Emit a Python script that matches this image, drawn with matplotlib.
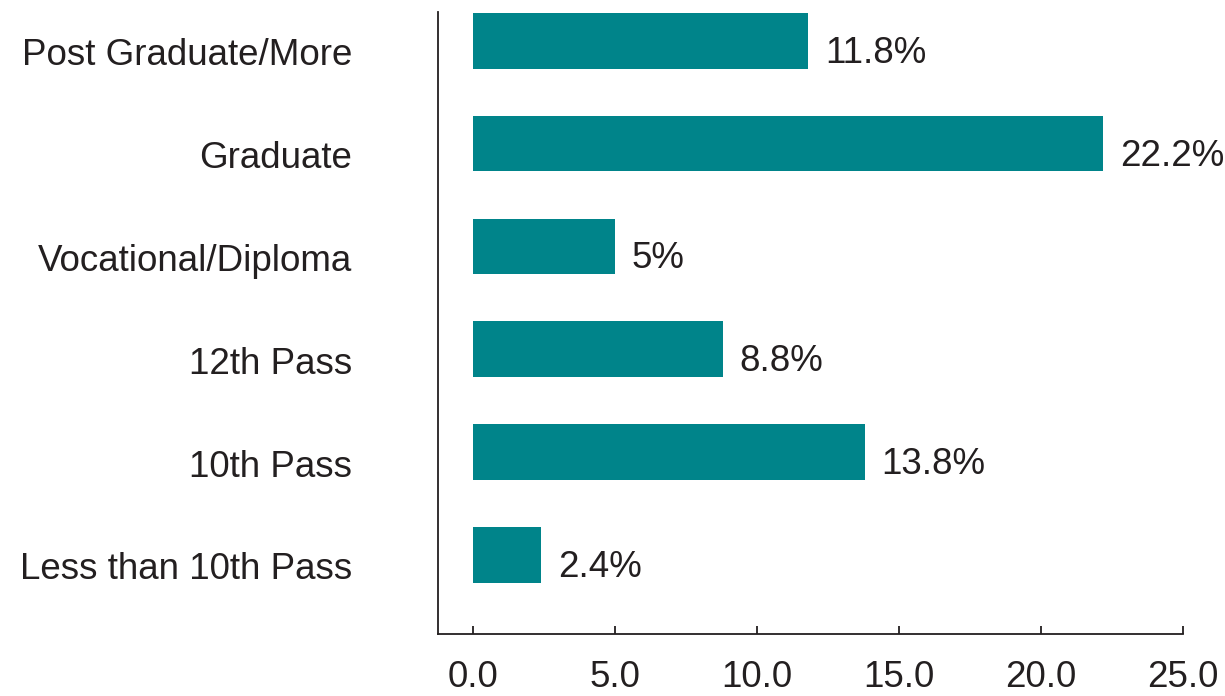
import matplotlib.pyplot as plt
from matplotlib.transforms import ScaledTranslation

# education levels, bottom to top
levels = ['Less than 10th Pass', '10th Pass', '12th Pass',
          'Vocational/Diploma', 'Graduate', 'Post Graduate/More']
shares = [2.4, 13.8, 8.8, 5.0, 22.2, 11.8]
share_labels = ['2.4%', '13.8%', '8.8%', '5%', '22.2%', '11.8%']
x_ticks = [0, 5, 10, 15, 20, 25]

plt.rcParams['font.family'] = ['Liberation Sans', 'DejaVu Sans']
txt = '#231f20'
fs = 26.5

fig = plt.figure(figsize=(12.25, 6.96), dpi=100)
ax = fig.add_axes([0.3576, 0.0891, 0.6081, 0.8937])

pos = range(len(levels))
bars = ax.barh(pos, shares, height=0.54, color='#00848a')
for b, lab in zip(bars, share_labels):
    ax.annotate(lab, (b.get_width(), b.get_y() + b.get_height() / 2),
                xytext=(12, -9), textcoords='offset points',
                va='center', ha='left', fontsize=fs, color=txt)

ax.set_xlim(-1.23, 25)
ax.set_ylim(-0.77, 5.28)
ax.set_xticks(x_ticks)
ax.set_xticklabels([f'{v:.1f}' for v in x_ticks])
ax.set_yticks(list(pos))
ax.set_yticklabels(levels)

ax.spines['top'].set_visible(False)
ax.spines['right'].set_visible(False)
for s in ('left', 'bottom'):
    ax.spines[s].set_color(txt)
    ax.spines[s].set_linewidth(1.3)

ax.tick_params(axis='x', direction='in', length=6, width=1.3, color=txt,
               labelsize=fs, labelcolor=txt, pad=19)
ax.tick_params(axis='y', length=0, labelsize=fs, labelcolor=txt, pad=62)

# category names sit a little below the bar centres
shift = ScaledTranslation(0, -8 / 72, fig.dpi_scale_trans)
for t in ax.get_yticklabels():
    t.set_transform(t.get_transform() + shift)

fig.savefig('out.png', dpi=100)
